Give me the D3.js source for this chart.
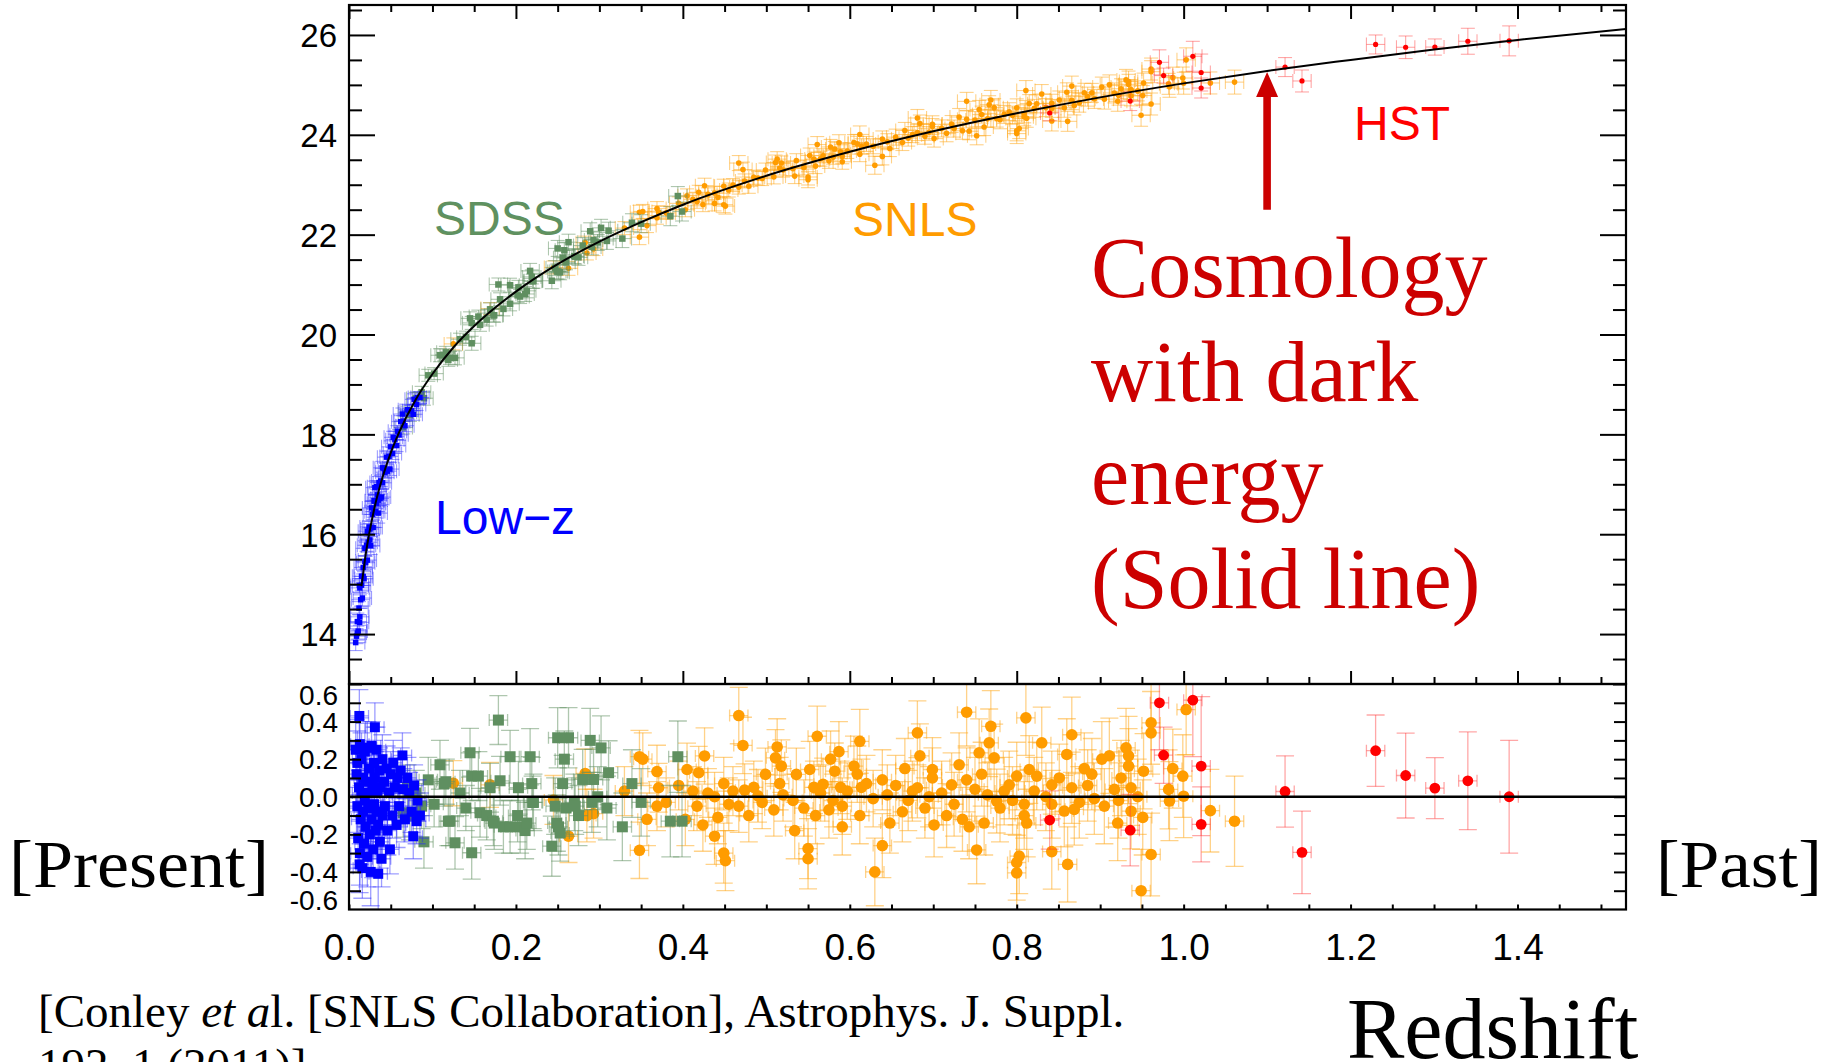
<!DOCTYPE html>
<html>
<head>
<meta charset="utf-8">
<script src="https://cdn.jsdelivr.net/npm/d3@7"></script>
<style>
  html, body { margin: 0; padding: 0; background: #fff; }
  svg { display: block; }
</style>
</head>
<body>
<svg id="chart" width="1829" height="1062"></svg>
<script>
// ---------------------------------------------------------------
// Data: SN Ia Hubble diagram (apparent magnitude vs redshift)
// Each supernova: [redshift, Hubble residual (mag), magnitude error]
// ---------------------------------------------------------------
const redshiftTicks = [0.0, 0.2, 0.4, 0.6, 0.8, 1.0, 1.2, 1.4];
const magTicks = [14, 16, 18, 20, 22, 24, 26];
const residTicks = [0.6, 0.4, 0.2, 0.0, -0.2, -0.4, -0.6];

// best-fit cosmology (solid line), magnitude at each redshift
const modelZ   = [0.008, 0.010, 0.012, 0.015, 0.02, 0.03, 0.04, 0.05, 0.06, 0.08, 0.10, 0.125, 0.15, 0.20, 0.25, 0.30, 0.35, 0.40, 0.50, 0.60, 0.70, 0.80, 0.90, 1.00, 1.10, 1.20, 1.30, 1.40, 1.53];
const modelMag = [13.58, 14.07, 14.47, 14.96, 15.59, 16.49, 17.13, 17.63, 18.04, 18.70, 19.21, 19.74, 20.17, 20.86, 21.41, 21.86, 22.25, 22.60, 23.18, 23.66, 24.07, 24.43, 24.75, 25.03, 25.28, 25.50, 25.71, 25.90, 26.12];
const modelStartZ = 0.015;
const redshiftErr = 0.011;

const lowzSN = [
  [0.008,0.25,0.16],[0.009,0.12,0.15],[0.010,-0.05,0.14],[0.010,0.18,0.17],[0.011,-0.22,0.16],[0.012,0.05,0.13],
  [0.0124,0.43,0.14],[0.0127,-0.36,0.15],[0.013,-0.30,0.17],[0.013,0.28,0.14],[0.014,-0.12,0.13],[0.015,0.02,0.12],
  [0.015,0.20,0.14],[0.016,-0.38,0.16],[0.017,-0.08,0.12],[0.017,0.10,0.13],[0.018,-0.25,0.14],[0.019,0.24,0.15],
  [0.019,-0.02,0.11],[0.020,-0.16,0.13],[0.021,0.08,0.12],[0.022,-0.32,0.16],[0.022,0.26,0.14],[0.023,-0.06,0.12],
  [0.024,0.15,0.12],[0.025,-0.20,0.13],[0.025,0.02,0.11],[0.026,-0.40,0.18],[0.027,0.27,0.13],[0.027,-0.12,0.12],
  [0.028,0.06,0.11],[0.029,-0.28,0.15],[0.030,0.18,0.12],[0.030,-0.04,0.11],[0.031,0.37,0.13],[0.031,0.10,0.12],
  [0.032,-0.18,0.13],[0.033,0.25,0.12],[0.033,-0.08,0.11],[0.034,0.02,0.11],[0.035,-0.41,0.20],[0.035,-0.15,0.12],
  [0.036,0.14,0.12],[0.037,-0.24,0.14],[0.038,0.05,0.11],[0.039,-0.33,0.15],[0.040,0.20,0.13],[0.040,-0.10,0.12],
  [0.042,0.08,0.11],[0.043,-0.05,0.12],[0.045,0.15,0.12],[0.046,-0.18,0.13],[0.048,0.02,0.11],[0.049,-0.28,0.13],
  [0.050,0.12,0.12],[0.052,-0.10,0.12],[0.053,0.18,0.12],[0.055,0.05,0.11],[0.057,-0.15,0.12],[0.058,0.10,0.11],
  [0.060,-0.05,0.11],[0.062,0.14,0.12],[0.064,0.22,0.12],[0.065,0.04,0.11],[0.067,-0.12,0.12],[0.070,0.10,0.11],
  [0.072,0.02,0.11],[0.075,-0.08,0.11],[0.077,-0.21,0.12],[0.078,0.06,0.11],[0.081,-0.13,0.12],[0.082,-0.02,0.11],
  [0.085,-0.10,0.12]
];

const sdssSN = [
  [0.065,-0.085,0.13],[0.070,0.05,0.12],[0.073,-0.10,0.13],[0.080,0.02,0.12],[0.087,-0.05,0.12],[0.0898,-0.24,0.14],
  [0.095,0.09,0.12],[0.102,-0.04,0.12],[0.109,0.17,0.13],[0.114,0.07,0.12],[0.116,0.08,0.12],[0.119,-0.13,0.13],
  [0.121,-0.13,0.13],[0.127,-0.245,0.14],[0.133,0.02,0.12],[0.140,-0.06,0.12],[0.145,0.234,0.13],[0.147,0.11,0.13],
  [0.147,-0.298,0.14],[0.155,0.11,0.13],[0.157,-0.085,0.13],[0.165,-0.10,0.13],[0.169,0.048,0.13],[0.173,-0.13,0.13],
  [0.174,-0.14,0.14],[0.179,0.408,0.13],[0.181,0.085,0.13],[0.185,-0.16,0.14],[0.193,0.213,0.14],[0.193,-0.16,0.14],
  [0.202,-0.10,0.14],[0.203,0.048,0.14],[0.205,-0.16,0.14],[0.211,-0.18,0.15],[0.213,-0.14,0.14],[0.217,0.213,0.15],
  [0.219,0.07,0.14],[0.220,-0.03,0.14],[0.221,-0.03,0.15],[0.243,-0.263,0.16],[0.247,-0.05,0.15],[0.249,-0.14,0.15],
  [0.250,0.314,0.16],[0.251,-0.16,0.15],[0.253,-0.193,0.15],[0.256,0.07,0.15],[0.258,0.20,0.15],[0.260,-0.06,0.15],
  [0.263,0.314,0.16],[0.270,-0.03,0.15],[0.271,-0.05,0.15],[0.275,-0.10,0.16],[0.280,0.092,0.16],[0.289,0.30,0.17],
  [0.291,-0.03,0.16],[0.293,0.092,0.16],[0.298,0.0,0.16],[0.302,0.26,0.17],[0.309,-0.06,0.17],[0.311,0.128,0.17],
  [0.3275,-0.16,0.18],[0.339,0.07,0.18],[0.350,-0.03,0.18],[0.385,-0.13,0.19],[0.394,0.213,0.19],[0.399,-0.13,0.19]
];

const snlsSN = [
  [0.125,0.072,0.12],[0.169,0.063,0.12],[0.245,-0.017,0.13],[0.263,-0.21,0.14],[0.283,0.124,0.13],[0.285,-0.10,0.14],
  [0.293,-0.09,0.13],[0.330,0.03,0.13],[0.348,0.213,0.14],[0.352,0.20,0.14],[0.348,-0.285,0.15],[0.357,-0.12,0.14],
  [0.369,0.134,0.14],[0.369,-0.05,0.13],[0.371,0.048,0.13],[0.380,-0.03,0.13],[0.395,0.06,0.13],[0.403,-0.12,0.14],
  [0.405,0.145,0.14],[0.412,0.03,0.13],[0.417,-0.05,0.13],[0.419,0.128,0.14],[0.424,-0.15,0.14],[0.426,0.217,0.15],
  [0.430,0.02,0.13],[0.438,0.0,0.13],[0.438,-0.21,0.15],[0.442,-0.11,0.14],[0.449,0.07,0.14],[0.449,-0.30,0.16],
  [0.451,-0.34,0.16],[0.455,-0.04,0.14],[0.460,0.03,0.13],[0.467,0.432,0.15],[0.467,-0.05,0.14],[0.472,0.273,0.15],
  [0.474,0.035,0.14],[0.479,-0.10,0.14],[0.485,0.05,0.14],[0.490,0.005,0.14],[0.495,-0.03,0.14],[0.499,0.119,0.14],
  [0.509,-0.07,0.14],[0.511,0.207,0.15],[0.513,0.265,0.15],[0.516,0.07,0.14],[0.518,0.163,0.14],[0.520,0.01,0.14],
  [0.532,-0.02,0.14],[0.534,-0.18,0.15],[0.536,0.119,0.14],[0.545,-0.06,0.15],[0.550,-0.276,0.16],[0.550,-0.33,0.16],
  [0.552,0.145,0.15],[0.557,0.05,0.14],[0.559,-0.10,0.15],[0.561,0.322,0.16],[0.565,0.02,0.15],[0.568,0.066,0.14],
  [0.575,-0.07,0.15],[0.577,0.20,0.15],[0.580,-0.02,0.14],[0.582,0.136,0.15],[0.587,0.24,0.16],[0.589,0.05,0.14],
  [0.591,-0.16,0.15],[0.591,-0.05,0.15],[0.597,0.03,0.15],[0.605,0.163,0.16],[0.609,0.12,0.15],[0.612,0.295,0.17],
  [0.612,-0.10,0.15],[0.614,0.05,0.15],[0.620,0.07,0.15],[0.628,-0.01,0.15],[0.630,-0.40,0.18],[0.639,-0.26,0.17],
  [0.639,0.09,0.16],[0.645,0.01,0.16],[0.648,-0.14,0.16],[0.655,0.06,0.16],[0.663,-0.08,0.16],[0.666,0.15,0.16],
  [0.670,-0.02,0.16],[0.675,0.03,0.16],[0.681,0.34,0.17],[0.681,0.048,0.16],[0.684,0.218,0.17],[0.690,-0.06,0.16],
  [0.695,0.0,0.16],[0.699,0.145,0.17],[0.699,0.10,0.16],[0.701,-0.15,0.17],[0.710,0.02,0.17],[0.716,-0.10,0.17],
  [0.722,0.063,0.17],[0.725,-0.04,0.17],[0.731,0.17,0.17],[0.735,-0.12,0.17],[0.740,0.45,0.18],[0.740,0.09,0.17],
  [0.743,-0.16,0.17],[0.750,0.04,0.17],[0.752,-0.283,0.18],[0.755,0.234,0.18],[0.758,0.12,0.17],[0.761,-0.14,0.17],
  [0.765,0.01,0.17],[0.767,0.287,0.18],[0.769,0.375,0.19],[0.773,0.207,0.18],[0.776,-0.023,0.17],[0.780,-0.06,0.18],
  [0.785,0.03,0.18],[0.791,0.063,0.18],[0.795,-0.02,0.18],[0.800,0.11,0.18],[0.800,-0.35,0.20],[0.803,-0.316,0.20],
  [0.800,-0.405,0.20],[0.809,-0.04,0.18],[0.809,-0.10,0.18],[0.811,0.42,0.20],[0.812,-0.14,0.18],[0.815,0.145,0.18],
  [0.821,0.03,0.18],[0.824,0.11,0.18],[0.830,0.287,0.19],[0.835,0.0,0.18],[0.842,-0.292,0.20],[0.842,0.063,0.18],
  [0.842,-0.04,0.18],[0.851,0.10,0.18],[0.857,-0.076,0.19],[0.860,0.225,0.19],[0.861,-0.36,0.20],[0.866,0.33,0.20],
  [0.866,0.048,0.19],[0.869,-0.067,0.19],[0.875,-0.03,0.19],[0.881,0.15,0.19],[0.885,0.06,0.19],[0.890,0.12,0.19],
  [0.893,-0.01,0.19],[0.902,0.20,0.20],[0.905,-0.05,0.20],[0.911,0.218,0.20],[0.917,0.039,0.20],[0.921,-0.14,0.20],
  [0.922,-0.02,0.20],[0.925,0.10,0.20],[0.931,0.26,0.21],[0.934,0.218,0.21],[0.934,0.163,0.20],[0.937,0.048,0.20],
  [0.937,-0.077,0.20],[0.945,0.0,0.20],[0.949,-0.50,0.22],[0.951,-0.11,0.20],[0.952,0.136,0.20],[0.961,-0.307,0.22],
  [0.961,0.34,0.22],[0.961,0.393,0.22],[0.982,0.039,0.21],[0.983,-0.023,0.21],[0.987,0.15,0.21],[0.999,0.11,0.22],
  [1.000,0.003,0.22],[1.003,0.464,0.24],[1.032,-0.074,0.22],[1.061,-0.13,0.24]
];

const hstSN = [
  [0.8395,-0.124,0.155],[0.936,-0.178,0.19],[0.971,0.50,0.25],[0.976,0.221,0.15],[1.011,0.514,0.30],
  [1.021,0.163,0.37],[1.021,-0.147,0.20],[1.1215,0.028,0.19],[1.1418,-0.296,0.22],[1.230,0.245,0.19],
  [1.266,0.113,0.226],[1.301,0.046,0.162],[1.3405,0.085,0.26],[1.390,0.0,0.30]
];

// ---------------------------------------------------------------
// Layout and scales
// ---------------------------------------------------------------
const svg = d3.select("#chart");
svg.append("rect").attr("width", 1829).attr("height", 1062).attr("fill", "#fff");

const L = 349, R = 1626, T = 5, MID = 684, B = 909.5;
const x = d3.scaleLinear().domain([0, 1.53]).range([L, R]);
const yTop = d3.scaleLinear().domain([13, 26.6]).range([MID, T]);
const yRes = d3.scaleLinear().domain([-0.6, 0.6]).range([B, MID]);
const model = d3.scaleLog().domain(modelZ).range(modelMag);

const SANS = "'Liberation Sans', Arial, Helvetica, sans-serif";
const SERIF = "'Liberation Serif', 'Times New Roman', Times, serif";

const defs = svg.append("defs");
defs.append("clipPath").attr("id", "clipTop")
  .append("rect").attr("x", L).attr("y", T).attr("width", R - L).attr("height", MID - T);
defs.append("clipPath").attr("id", "clipRes")
  .append("rect").attr("x", L).attr("y", MID).attr("width", R - L).attr("height", B - MID);

const gTop = svg.append("g").attr("clip-path", "url(#clipTop)");
const gRes = svg.append("g").attr("clip-path", "url(#clipRes)");

// ---------------------------------------------------------------
// Supernova samples: error bars + markers in both panels
// ---------------------------------------------------------------
const surveys = [
  { data: snlsSN, color: "#ff9c00", bar: "rgba(255,165,20,0.5)",  shape: "circle", topSize: 2.8, resSize: 5.8 },
  { data: sdssSN, color: "#5f8f60", bar: "rgba(95,143,96,0.5)",   shape: "square", topSize: 6.5, resSize: 11 },
  { data: lowzSN, color: "#0000ff", bar: "rgba(40,40,255,0.45)",  shape: "square", topSize: 5.5, resSize: 10 },
  { data: hstSN,  color: "#ff0000", bar: "rgba(255,60,60,0.45)",  shape: "circle", topSize: 2.6, resSize: 5.4 }
];

function drawErrors(g, pts, ys, val, s, capY, capX, width) {
  const eg = g.append("g").attr("stroke", s.bar).attr("stroke-width", width).attr("fill", "none");
  pts.forEach(d => {
    const cx = x(d[0]), v = val(d);
    const y0 = ys(v - d[2]), y1 = ys(v + d[2]), cy = ys(v);
    const xa = x(d[0] - redshiftErr), xb = x(d[0] + redshiftErr);
    eg.append("line").attr("x1", cx).attr("x2", cx).attr("y1", y0).attr("y2", y1);
    eg.append("line").attr("x1", cx - capY).attr("x2", cx + capY).attr("y1", y0).attr("y2", y0);
    eg.append("line").attr("x1", cx - capY).attr("x2", cx + capY).attr("y1", y1).attr("y2", y1);
    eg.append("line").attr("x1", xa).attr("x2", xb).attr("y1", cy).attr("y2", cy);
    eg.append("line").attr("x1", xa).attr("x2", xa).attr("y1", cy - capX).attr("y2", cy + capX);
    eg.append("line").attr("x1", xb).attr("x2", xb).attr("y1", cy - capX).attr("y2", cy + capX);
  });
}

function drawMarkers(g, pts, ys, val, s, size) {
  const mg = g.append("g").attr("fill", s.color);
  if (s.shape === "circle") {
    mg.selectAll("circle").data(pts).join("circle")
      .attr("cx", d => x(d[0])).attr("cy", d => ys(val(d))).attr("r", size);
  } else {
    mg.selectAll("rect").data(pts).join("rect")
      .attr("x", d => x(d[0]) - size / 2).attr("y", d => ys(val(d)) - size / 2)
      .attr("width", size).attr("height", size);
  }
}

const magOf = d => model(d[0]) + d[1];
const resOf = d => d[1];

surveys.forEach(s => {
  drawErrors(gTop, s.data, yTop, magOf, s, 7, 7, 1.1);
  drawMarkers(gTop, s.data, yTop, magOf, s, s.topSize);
});
surveys.forEach(s => {
  drawErrors(gRes, s.data, yRes, resOf, s, 9, 6, 1.3);
  drawMarkers(gRes, s.data, yRes, resOf, s, s.resSize);
});

// model curve and zero-residual line
const curvePts = modelZ.map((z, i) => [z, modelMag[i]]).filter(d => d[0] >= modelStartZ);
gTop.append("path").datum(curvePts)
  .attr("d", d3.line().x(d => x(d[0])).y(d => yTop(d[1])).curve(d3.curveMonotoneX))
  .attr("fill", "none").attr("stroke", "#000").attr("stroke-width", 2);
gRes.append("line").attr("x1", L).attr("x2", R).attr("y1", yRes(0)).attr("y2", yRes(0))
  .attr("stroke", "#000").attr("stroke-width", 2.6);

// ---------------------------------------------------------------
// Axes (ticks point inward) and frames
// ---------------------------------------------------------------
function styleAxis(g) {
  g.select(".domain").remove();
  g.selectAll(".tick line").attr("stroke", "#000").attr("stroke-width", 2);
  g.selectAll(".tick text").attr("fill", "#000");
}
const xMinor = d3.range(0, 31).map(i => +(i * 0.05).toFixed(2)).filter(v => !redshiftTicks.includes(v));
const magMinor = d3.range(0, 28).map(i => 13 + i * 0.5).filter(v => !magTicks.includes(v) && v <= 26.6);
const resMinor = d3.range(-5, 6).map(i => +(i * 0.1).toFixed(1));

// upper panel, left and right
svg.append("g").attr("transform", `translate(${L},0)`)
  .call(d3.axisLeft(yTop).tickValues(magTicks).tickSizeInner(-26).tickSizeOuter(0).tickPadding(12).tickFormat(d3.format("d")))
  .call(styleAxis)
  .call(g => g.selectAll(".tick text").attr("font-family", SANS).attr("font-size", 33).attr("dy", "0.36em"));
svg.append("g").attr("transform", `translate(${L},0)`)
  .call(d3.axisLeft(yTop).tickValues(magMinor).tickSizeInner(-13).tickSizeOuter(0).tickFormat(""))
  .call(styleAxis);
svg.append("g").attr("transform", `translate(${R},0)`)
  .call(d3.axisRight(yTop).tickValues(magTicks).tickSizeInner(-26).tickSizeOuter(0).tickFormat(""))
  .call(styleAxis);
svg.append("g").attr("transform", `translate(${R},0)`)
  .call(d3.axisRight(yTop).tickValues(magMinor).tickSizeInner(-13).tickSizeOuter(0).tickFormat(""))
  .call(styleAxis);

// upper panel, top and bottom edges
svg.append("g").attr("transform", `translate(0,${T})`)
  .call(d3.axisTop(x).tickValues(redshiftTicks).tickSizeInner(-14).tickSizeOuter(0).tickFormat(""))
  .call(styleAxis);
svg.append("g").attr("transform", `translate(0,${T})`)
  .call(d3.axisTop(x).tickValues(xMinor).tickSizeInner(-7).tickSizeOuter(0).tickFormat(""))
  .call(styleAxis);
svg.append("g").attr("transform", `translate(0,${MID})`)
  .call(d3.axisBottom(x).tickValues(redshiftTicks).tickSizeInner(-13).tickSizeOuter(0).tickFormat(""))
  .call(styleAxis);
svg.append("g").attr("transform", `translate(0,${MID})`)
  .call(d3.axisBottom(x).tickValues(xMinor).tickSizeInner(-7).tickSizeOuter(0).tickFormat(""))
  .call(styleAxis);

// residual panel
svg.append("g").attr("transform", `translate(${L},0)`)
  .call(d3.axisLeft(yRes).tickValues(resMinor).tickSizeInner(-12).tickSizeOuter(0).tickFormat(""))
  .call(styleAxis);
svg.append("g").attr("transform", `translate(${R},0)`)
  .call(d3.axisRight(yRes).tickValues(resMinor).tickSizeInner(-12).tickSizeOuter(0).tickFormat(""))
  .call(styleAxis);
svg.append("g").attr("transform", `translate(0,${B})`)
  .call(d3.axisBottom(x).tickValues(redshiftTicks).tickSizeInner(-5).tickSizeOuter(0).tickPadding(24).tickFormat(d3.format(".1f")))
  .call(styleAxis)
  .call(g => g.selectAll(".tick text").attr("font-family", SANS).attr("font-size", 37));
svg.append("g").attr("transform", `translate(0,${B})`)
  .call(d3.axisBottom(x).tickValues(xMinor).tickSizeInner(-5).tickSizeOuter(0).tickFormat(""))
  .call(styleAxis);

// residual labels, kept inside the panel at its edges
svg.append("g").selectAll("text").data(residTicks).join("text")
  .attr("x", 338)
  .attr("y", d => Math.max(MID + 11, Math.min(B - 9.5, yRes(d))))
  .attr("dy", "0.36em")
  .attr("text-anchor", "end")
  .attr("font-family", SANS).attr("font-size", 28).attr("fill", "#000")
  .text(d => (d < 0 ? "-" : "") + Math.abs(d).toFixed(1));

// frames
svg.append("rect").attr("x", L).attr("y", T).attr("width", R - L).attr("height", MID - T)
  .attr("fill", "none").attr("stroke", "#000").attr("stroke-width", 2.2);
svg.append("rect").attr("x", L).attr("y", MID).attr("width", R - L).attr("height", B - MID)
  .attr("fill", "none").attr("stroke", "#000").attr("stroke-width", 2.2);

// ---------------------------------------------------------------
// Sample names and annotations
// ---------------------------------------------------------------
const labels = [
  { t: "SDSS",  x: 434,  y: 235, c: "#5f9160" },
  { t: "SNLS",  x: 852,  y: 236, c: "#ff9c00" },
  { t: "HST",   x: 1354, y: 140, c: "#ff0000" },
  { t: "Low\u2212z", x: 435, y: 534, c: "#0000ff" }
];
svg.append("g").selectAll("text").data(labels).join("text")
  .attr("x", d => d.x).attr("y", d => d.y).attr("fill", d => d.c)
  .attr("font-family", SANS).attr("font-size", 48).text(d => d.t);

// arrow pointing at the cosmology curve
const arrowZ = 1.1, arrowTailMag = 22.5;
const ax = x(arrowZ), tipY = yTop(model(arrowZ)) + 1, tailY = yTop(arrowTailMag);
const headLen = 25, headHalf = 11, shaftHalf = 3.8;
svg.append("path")
  .attr("d", `M${ax - shaftHalf},${tailY} L${ax - shaftHalf},${tipY + headLen} L${ax - headHalf},${tipY + headLen}
              L${ax},${tipY} L${ax + headHalf},${tipY + headLen} L${ax + shaftHalf},${tipY + headLen}
              L${ax + shaftHalf},${tailY} Z`)
  .attr("fill", "#cc0000");

const noteLines = ["Cosmology", "with dark", "energy", "(Solid line)"];
svg.append("g").selectAll("text").data(noteLines).join("text")
  .attr("x", 1091).attr("y", (d, i) => 297 + i * 103.7)
  .attr("font-family", SERIF).attr("font-size", 86).attr("fill", "#cc0000")
  .text(d => d);

svg.append("text").attr("x", 9).attr("y", 887)
  .attr("font-family", SERIF).attr("font-size", 68)
  .attr("textLength", 260).attr("lengthAdjust", "spacingAndGlyphs")
  .text("[Present]");
svg.append("text").attr("x", 1656).attr("y", 887)
  .attr("font-family", SERIF).attr("font-size", 68)
  .attr("textLength", 166).attr("lengthAdjust", "spacingAndGlyphs")
  .text("[Past]");

svg.append("text").attr("x", 1347).attr("y", 1058)
  .attr("font-family", SERIF).attr("font-size", 86).text("Redshift");

const cite = svg.append("text").attr("x", 38).attr("y", 1027)
  .attr("font-family", SERIF).attr("font-size", 47).attr("fill", "#000");
cite.append("tspan").text("[Conley ");
cite.append("tspan").attr("font-style", "italic").text("et a");
cite.append("tspan").text("l. [SNLS Collaboration], Astrophys. J. Suppl.");
svg.append("text").attr("x", 38).attr("y", 1081)
  .attr("font-family", SERIF).attr("font-size", 47).attr("fill", "#000")
  .text("192, 1 (2011)]");
</script>
</body>
</html>
